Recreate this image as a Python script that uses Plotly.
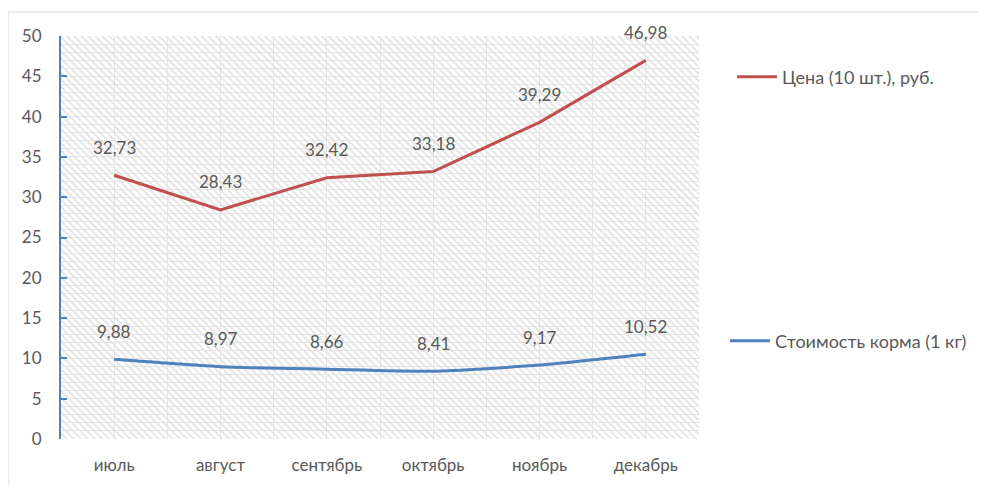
import base64
import plotly.graph_objects as go

months = ["июль", "август", "сентябрь", "октябрь", "ноябрь", "декабрь"]
price = [32.73, 28.43, 32.42, 33.18, 39.29, 46.98]
feed = [9.88, 8.97, 8.66, 8.41, 9.17, 10.52]
price_name = "Цена (10 шт.), руб."
feed_name = "Стоимость корма (1 кг)"
y_ticks = [0, 5, 10, 15, 20, 25, 30, 35, 40, 45, 50]

FONT = "Lato, 'Open Sans', sans-serif"
TXT = "#595959"
RED = "#c0504d"
BLUE = "#4f81bd"

# page body has an 8px margin, so the figure is drawn 8px in
W, H = 978, 478
ML, MT = 53, 28
PW, PH = 638, 403
MR, MB = W - ML - PW, H - MT - PH

xs = list(range(len(months)))

def fmt(v):
    return f"{v:.2f}".replace(".", ",")

# diagonal hatch background image
svg = (
    f'<svg xmlns="http://www.w3.org/2000/svg" width="{PW}" height="{PH}">'
    '<defs><pattern id="p" width="5" height="5" patternUnits="userSpaceOnUse" '
    'patternTransform="rotate(45)">'
    '<rect width="5" height="5" fill="white"/>'
    '<rect width="5" height="1.6" fill="#e0e0e0"/></pattern></defs>'
    f'<rect width="{PW}" height="{PH}" fill="url(#p)"/></svg>'
)
src = "data:image/svg+xml;base64," + base64.b64encode(svg.encode()).decode()

fig = go.Figure()
fig.add_trace(go.Scatter(
    x=xs, y=price, mode="lines", name=price_name,
    line=dict(color=RED, width=3), legend="legend", hoverinfo="skip"))
fig.add_trace(go.Scatter(
    x=xs, y=feed, mode="lines", name=feed_name,
    line=dict(color=BLUE, width=3, shape="spline", smoothing=0.6),
    legend="legend2", hoverinfo="skip"))

for series in (price, feed):
    for x, v in zip(xs, series):
        fig.add_annotation(x=x, y=v, text=fmt(v), showarrow=False,
                           yshift=28, font=dict(family=FONT, size=17, color=TXT))

fig.add_layout_image(dict(source=src, xref="paper", yref="paper", x=0, y=1,
                          sizex=1, sizey=1, xanchor="left", yanchor="top",
                          sizing="stretch", layer="below"))

# outer chart border
fig.add_shape(type="rect", xref="paper", yref="paper",
              x0=(0 - ML) / PW, x1=(W + 5 - ML) / PW,
              y0=-0.3, y1=(H - MB - 4) / PH,
              line=dict(color="#d9d9d9", width=1), fillcolor="rgba(0,0,0,0)",
              layer="below")

fig.update_layout(
    width=W, height=H,
    margin=dict(l=ML, r=MR, t=MT, b=MB),
    paper_bgcolor="white", plot_bgcolor="rgba(0,0,0,0)",
    font=dict(family=FONT, size=17, color=TXT),
    showlegend=True,
    legend=dict(x=(724 - ML) / PW, y=(H - MB - 69) / PH, xanchor="left",
                yanchor="middle", bgcolor="rgba(0,0,0,0)",
                font=dict(size=18, color=TXT), itemwidth=40),
    legend2=dict(x=(717 - ML) / PW, y=(H - MB - 333) / PH, xanchor="left",
                 yanchor="middle", bgcolor="rgba(0,0,0,0)",
                 font=dict(size=18, color=TXT), itemwidth=40),
    xaxis=dict(
        range=[-0.5, len(months) - 0.5], tickmode="array", tickvals=xs,
        ticktext=months, showgrid=True, gridcolor="#e4e4e4", gridwidth=1,
        zeroline=False, showline=False, ticks="", ticklabelstandoff=14,
        minor=dict(tickmode="linear", tick0=-0.5, dtick=1, showgrid=True,
                   gridcolor="#e4e4e4", gridwidth=1),
        fixedrange=True),
    yaxis=dict(
        range=[0, 50], tickmode="array", tickvals=y_ticks,
        showgrid=True, gridcolor="#e4e4e4", gridwidth=1, zeroline=False,
        showline=True, linecolor=BLUE, linewidth=2,
        ticks="inside", ticklen=6, tickcolor=BLUE, tickwidth=2,
        ticklabelstandoff=14,
        minor=dict(tickmode="linear", tick0=0, dtick=1, showgrid=True,
                   gridcolor="#e4e4e4", gridwidth=1),
        fixedrange=True),
)

fig.write_html("out.html")
